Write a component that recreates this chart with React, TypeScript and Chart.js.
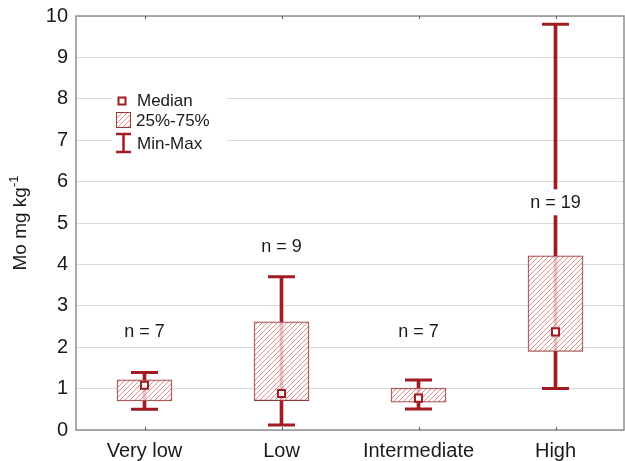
import React, { useEffect, useRef } from "react";
import { Chart, registerables } from "chart.js";
Chart.register(...registerables);

const categories = ["Very low", "Low", "Intermediate", "High"];
const minValues = [0.5, 0.12, 0.51, 1.0];
const q1Values = [0.7, 0.71, 0.67, 1.9];
const medianValues = [1.08, 0.88, 0.77, 2.37];
const q3Values = [1.21, 2.61, 1.01, 4.21];
const maxValues = [1.39, 3.7, 1.21, 9.8];
const nCounts = [7, 9, 7, 19];
const nLabelY = [2.4, 4.45, 2.4, 5.5];
const yMin = 0;
const yMax = 10;

const DARK = "#a01c22";
const BOX_BORDER = "#963838";
const FONT = '"Liberation Sans", Arial, sans-serif';

function makePattern(): CanvasPattern | string {
  const c = document.createElement("canvas");
  c.width = 5;
  c.height = 5;
  const g = c.getContext("2d");
  if (!g) return "rgba(255,255,255,0.7)";
  g.fillStyle = "rgba(255,255,255,0.75)";
  g.fillRect(0, 0, 5, 5);
  g.strokeStyle = "rgba(210,80,80,0.65)";
  g.lineWidth = 1;
  g.beginPath();
  g.moveTo(0, 5);
  g.lineTo(5, 0);
  g.stroke();
  const p = g.createPattern(c, "repeat");
  return p || "rgba(255,255,255,0.7)";
}

function zeroPadding(scale: any) {
  scale.paddingLeft = 0;
  scale.paddingRight = 0;
  scale.paddingTop = 0;
  scale.paddingBottom = 0;
}

export default function App() {
  const ref = useRef<HTMLCanvasElement | null>(null);

  useEffect(() => {
    document.body.style.margin = "0";
    const canvas = ref.current;
    if (!canvas) return;
    const pattern = makePattern();

    const framePlugin = {
      id: "frame",
      afterDraw(chart: any) {
        const { ctx, chartArea } = chart;
        const { left, right, top, bottom } = chartArea;
        const xs = chart.scales.x;
        const ys = chart.scales.y;
        ctx.save();
        // border
        ctx.strokeStyle = "#8f8f8f";
        ctx.lineWidth = 1.5;
        ctx.strokeRect(left, top, right - left, bottom - top);
        // small category ticks
        ctx.strokeStyle = "#555";
        ctx.lineWidth = 1;
        categories.forEach((_, i) => {
          const x = Math.round(xs.getPixelForValue(i)) + 0.5;
          ctx.beginPath();
          ctx.moveTo(x, bottom);
          ctx.lineTo(x, bottom - 3);
          ctx.moveTo(x, top);
          ctx.lineTo(x, top + 3);
          ctx.stroke();
        });

        // n labels
        ctx.font = `18px ${FONT}`;
        ctx.textAlign = "center";
        ctx.textBaseline = "middle";
        categories.forEach((_, i) => {
          const x = xs.getPixelForValue(i);
          const y = ys.getPixelForValue(nLabelY[i]);
          const t = `n = ${nCounts[i]}`;
          const w = ctx.measureText(t).width;
          ctx.fillStyle = "#fff";
          ctx.fillRect(x - w / 2 - 4, y - 13, w + 8, 26);
          ctx.fillStyle = "#1a1a1a";
          ctx.fillText(t, x, y + 1);
        });

        // legend
        ctx.fillStyle = "#fff";
        ctx.fillRect(112, 86, 115, 72);
        // median icon
        ctx.fillStyle = "#fff";
        ctx.fillRect(118.5, 97.5, 7, 7);
        ctx.strokeStyle = DARK;
        ctx.lineWidth = 2;
        ctx.strokeRect(118.5, 97.5, 7, 7);
        // box icon
        ctx.fillStyle = pattern as any;
        ctx.fillRect(116, 112, 14, 15);
        ctx.strokeStyle = BOX_BORDER;
        ctx.lineWidth = 1;
        ctx.strokeRect(116.5, 112.5, 14, 15);
        // min-max icon
        ctx.strokeStyle = DARK;
        ctx.lineWidth = 2.5;
        ctx.beginPath();
        ctx.moveTo(123.5, 134);
        ctx.lineTo(123.5, 152);
        ctx.moveTo(116, 134);
        ctx.lineTo(131, 134);
        ctx.moveTo(116, 152);
        ctx.lineTo(131, 152);
        ctx.stroke();
        ctx.fillStyle = "#1a1a1a";
        ctx.font = `17px ${FONT}`;
        ctx.textAlign = "left";
        ctx.textBaseline = "middle";
        ctx.fillText("Median", 137, 101);
        ctx.fillText("25%-75%", 136, 121);
        ctx.fillText("Min-Max", 137, 144);

        // y title with superscript
        const main = "Mo mg kg";
        const sup = "-1";
        ctx.font = `19px ${FONT}`;
        const wMain = ctx.measureText(main).width;
        ctx.font = `13px ${FONT}`;
        const wSup = ctx.measureText(sup).width;
        const total = wMain + wSup;
        const cy = (top + bottom) / 2;
        ctx.translate(21, cy);
        ctx.rotate(-Math.PI / 2);
        ctx.textAlign = "left";
        ctx.textBaseline = "middle";
        ctx.font = `19px ${FONT}`;
        ctx.fillText(main, -total / 2, 0);
        ctx.font = `13px ${FONT}`;
        ctx.fillText(sup, -total / 2 + wMain, -7);
        ctx.restore();
      },
    };

    const chart = new Chart(canvas, {
      type: "bar",
      data: {
        labels: categories,
        datasets: [
          {
            type: "bar",
            label: "Min-Max",
            data: categories.map((_, i) => [minValues[i], maxValues[i]]),
            backgroundColor: DARK,
            borderWidth: 0,
            barThickness: 3,
            grouped: false,
            order: 4,
          } as any,
          {
            type: "bar",
            label: "25%-75%",
            data: categories.map((_, i) => [q1Values[i], q3Values[i]]),
            backgroundColor: pattern as any,
            borderColor: BOX_BORDER,
            borderWidth: 1,
            borderSkipped: false,
            barThickness: 55,
            grouped: false,
            order: 3,
          } as any,
          {
            type: "line",
            label: "Min",
            data: minValues,
            showLine: false,
            pointStyle: "line",
            pointRadius: 13.5,
            pointHoverRadius: 13.5,
            pointBorderWidth: 3,
            pointBorderColor: DARK,
            borderColor: DARK,
            order: 2,
          } as any,
          {
            type: "line",
            label: "Max",
            data: maxValues,
            showLine: false,
            pointStyle: "line",
            pointRadius: 13.5,
            pointHoverRadius: 13.5,
            pointBorderWidth: 3,
            pointBorderColor: DARK,
            borderColor: DARK,
            order: 2,
          } as any,
          {
            type: "line",
            label: "Median",
            data: medianValues,
            showLine: false,
            pointStyle: "rect",
            pointRadius: 5,
            pointHoverRadius: 5,
            pointBorderWidth: 2,
            pointBorderColor: DARK,
            pointBackgroundColor: "#fff",
            order: 1,
          } as any,
        ],
      },
      options: {
        animation: false,
        responsive: false,
        maintainAspectRatio: false,
        layout: { autoPadding: false, padding: { left: 0, right: 1, top: 16, bottom: 0 } },
        plugins: {
          legend: { display: false },
          tooltip: { enabled: false },
          title: { display: false },
        },
        scales: {
          x: {
            type: "category",
            offset: true,
            grid: { display: false, drawTicks: false },
            border: { display: false },
            ticks: {
              color: "#1a1a1a",
              font: { family: FONT, size: 20 },
              padding: 9,
              maxRotation: 0,
              autoSkip: false,
            },
            afterFit(scale: any) {
              scale.height = 31;
              zeroPadding(scale);
            },
          },
          y: {
            min: yMin,
            max: yMax,
            grid: { color: "#dadada", lineWidth: 1, drawTicks: false },
            border: { display: false },
            ticks: {
              stepSize: 1,
              color: "#1a1a1a",
              font: { family: FONT, size: 20 },
              padding: 8,
            },
            afterFit(scale: any) {
              scale.width = 76;
              zeroPadding(scale);
            },
          },
        },
      },
      plugins: [framePlugin],
    } as any);

    return () => chart.destroy();
  }, []);

  return (
    <div style={{ width: 625, height: 461, background: "#fff" }}>
      <canvas ref={ref} width={625} height={461} style={{ display: "block" }} />
    </div>
  );
}
